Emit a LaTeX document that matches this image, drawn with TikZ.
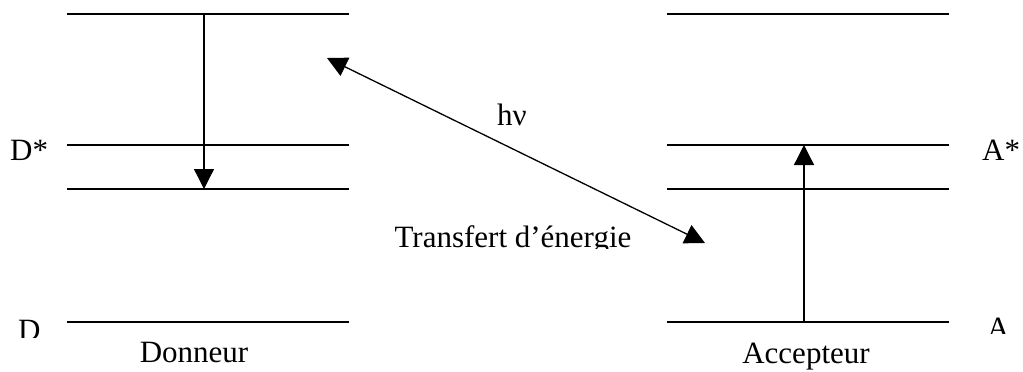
\documentclass[tikz,border=0pt]{standalone}
\usepackage{fontspec}
\setmainfont{Liberation Serif}
\usetikzlibrary{arrows.meta}
\begin{document}
\begin{tikzpicture}[x=1pt,y=-1pt,
  level/.style={line width=1.3pt},
  arr/.style={line width=1.3pt,-{Triangle[length=20pt,width=20pt]}},
  darr/.style={line width=1.3pt,{Triangle[length=20pt,width=20pt]}-{Triangle[length=20pt,width=20pt]}},
  lbl/.style={inner sep=0pt,font=\fontsize{31}{36}\selectfont}]
\useasboundingbox (0,0) rectangle (1023,372);
% level coordinates
\coordinate (L1a) at (67,14);  \coordinate (L1b) at (349,14);
\coordinate (L2a) at (67,145); \coordinate (L2b) at (349,145);
\coordinate (L3a) at (67,189); \coordinate (L3b) at (349,189);
\coordinate (L4a) at (67,322); \coordinate (L4b) at (349,322);
\coordinate (R1a) at (667,14);  \coordinate (R1b) at (949,14);
\coordinate (R2a) at (667,145); \coordinate (R2b) at (949,145);
\coordinate (R3a) at (667,189); \coordinate (R3b) at (949,189);
\coordinate (R4a) at (667,322); \coordinate (R4b) at (949,322);
\foreach \a/\b in {L1a/L1b,L2a/L2b,L3a/L3b,L4a/L4b,R1a/R1b,R2a/R2b,R3a/R3b,R4a/R4b}
  \draw[level] (\a) -- (\b);
% arrows
\coordinate (dtop) at (204,14);  \coordinate (dbot) at (204,189);
\coordinate (abot) at (804,322); \coordinate (atop) at (804,145);
\coordinate (e1) at (327,58);    \coordinate (e2) at (705,243);
\draw[arr] (dtop) -- (dbot);
\draw[arr] (abot) -- (atop);
\draw[darr] (e1) -- (e2);
% labels
\node[lbl,anchor=base west] (Dstar) at (10,160) {D*};
\node[lbl,anchor=base west] (Astar) at (982,160) {A*};
\node[lbl,anchor=base] (hnu) at (512,125) {hν};
\node[lbl,anchor=base] (donneur) at (194,362) {Donneur};
\node[lbl,anchor=base] (accepteur) at (806,363) {Accepteur};
\begin{scope}
  \clip (0,0) rectangle (1023,248);
  \node[lbl,anchor=base] (transfert) at (513,247.5) {Transfert d’énergie};
\end{scope}
\begin{scope}
  \clip (0,300) rectangle (60,337);
  \node[lbl,anchor=base west] (D) at (18,340.5) {D};
\end{scope}
\begin{scope}
  \clip (960,300) rectangle (1023,333);
  \node[lbl,anchor=base west] (A) at (987,338.5) {A};
\end{scope}
\end{tikzpicture}
\end{document}
